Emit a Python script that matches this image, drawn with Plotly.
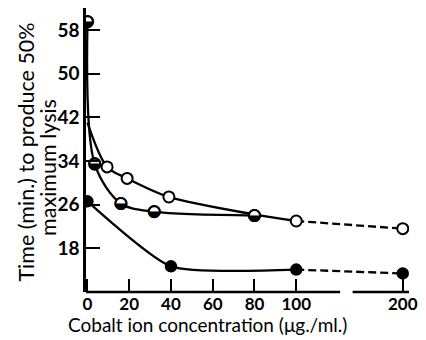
import plotly.graph_objects as go

# ---- data ----
open_x = [0, 9.4, 19, 39, 80, 100]
open_y = [41, 32.9, 30.8, 27.4, 24.2, 23.0]
open_marked = [False, True, True, True, False, True]
open_dash_x = [100, 200]
open_dash_y = [23.0, 21.6]

half_x = [0, 3.5, 16, 32, 80]
half_y = [59.5, 33.4, 26.2, 24.7, 24.0]

full_x = [0, 40, 100]
full_y = [26.6, 14.7, 14.1]
full_dash_x = [100, 200]
full_dash_y = [14.1, 13.4]

x_ticks = [0, 20, 40, 60, 80, 100, 200]
y_ticks = [18, 26, 34, 42, 50, 58]


def xpos(v):
    # broken axis: beyond 100 the scale is compressed
    return v if v <= 100 else 100 + (v - 100) * 0.51


FONT = "Lato"
LW = 2.3
fig = go.Figure()

# open circles series
fig.add_trace(go.Scatter(
    x=[xpos(v) for v in open_x], y=open_y, mode="lines",
    line=dict(color="black", width=LW, shape="spline", smoothing=0.9),
    showlegend=False, hoverinfo="skip"))
fig.add_trace(go.Scatter(
    x=[xpos(v) for v in open_dash_x], y=open_dash_y, mode="lines",
    line=dict(color="black", width=LW, dash="8px,4px"),
    showlegend=False, hoverinfo="skip"))

# half-filled series
fig.add_trace(go.Scatter(
    x=[xpos(v) for v in half_x], y=half_y, mode="lines",
    line=dict(color="black", width=LW, shape="spline", smoothing=0.9),
    showlegend=False, hoverinfo="skip"))

# filled series
fig.add_trace(go.Scatter(
    x=[xpos(v) for v in full_x], y=full_y, mode="lines",
    line=dict(color="black", width=LW, shape="spline", smoothing=0.55),
    showlegend=False, hoverinfo="skip"))
fig.add_trace(go.Scatter(
    x=[xpos(v) for v in full_dash_x], y=full_dash_y, mode="lines",
    line=dict(color="black", width=LW, dash="8px,4px"),
    showlegend=False, hoverinfo="skip"))

# markers
ox = [xpos(v) for v, m in zip(open_x, open_marked) if m] + [xpos(open_dash_x[-1])]
oy = [y for y, m in zip(open_y, open_marked) if m] + [open_dash_y[-1]]
fig.add_trace(go.Scatter(
    x=ox, y=oy, mode="markers",
    marker=dict(symbol="circle", size=11, color="white",
                line=dict(color="black", width=2)),
    showlegend=False, hoverinfo="skip"))
# half-filled: white disc underneath, then the lower-half-black circle glyph
hx = [xpos(v) for v in half_x]
fig.add_trace(go.Scatter(
    x=hx, y=half_y, mode="markers",
    marker=dict(symbol="circle", size=11, color="white",
                line=dict(color="black", width=2)),
    showlegend=False, hoverinfo="skip"))
fig.add_trace(go.Scatter(
    x=hx, y=half_y, mode="text", text=["\u25d2"] * len(hx),
    textposition="middle center",
    textfont=dict(family="DejaVu Sans", size=17, color="black"),
    showlegend=False, hoverinfo="skip"))
fig.add_trace(go.Scatter(
    x=[xpos(v) for v in full_x] + [xpos(full_dash_x[-1])],
    y=full_y + [full_dash_y[-1]], mode="markers",
    marker=dict(symbol="circle", size=11, color="black",
                line=dict(color="black", width=1.5)),
    showlegend=False, hoverinfo="skip"))

# broken x-axis line
for x0, x1 in [(-0.7, 121), (127, 154)]:
    fig.add_shape(type="line", xref="x", yref="paper", x0=x0, x1=x1, y0=0, y1=0,
                  line=dict(color="black", width=2.5))

fig.update_layout(
    width=426, height=340,
    margin=dict(l=86, r=9, t=8, b=48),
    plot_bgcolor="white", paper_bgcolor="white",
    font=dict(family=FONT, color="black", size=17),
    xaxis=dict(range=[-0.7, 154], showline=False, showgrid=False, zeroline=False,
               tickmode="array", tickvals=[xpos(v) for v in x_ticks],
               ticktext=[str(v) for v in x_ticks],
               ticks="inside", ticklen=13, tickwidth=2, tickcolor="black",
               ticklabeloverflow="allow", ticklabelstandoff=0,
               tickfont=dict(family=FONT, size=17, color="black", weight="bold")),
    yaxis=dict(range=[10, 62], showline=True, linecolor="black", linewidth=2.5,
               showgrid=False, zeroline=False,
               tickmode="array", tickvals=y_ticks,
               ticks="inside", ticklen=14, tickwidth=2, tickcolor="black",
               tickfont=dict(family=FONT, size=19, color="black", weight="bold")),
    annotations=[
        dict(text="Cobalt ion concentration (\u03bcg./ml.)", xref="paper", yref="paper",
             x=0.375, y=-0.115, xanchor="center", yanchor="middle", showarrow=False,
             font=dict(family=FONT, size=19, color="black")),
        dict(text="Time (min.) to produce 50%", xref="paper", yref="paper",
             x=-0.187, y=0.493, xanchor="center", yanchor="middle", showarrow=False,
             textangle=-90, font=dict(family=FONT, size=21.5, color="black")),
        dict(text="maximum lysis", xref="paper", yref="paper",
             x=-0.118, y=0.44, xanchor="center", yanchor="middle", showarrow=False,
             textangle=-90, font=dict(family=FONT, size=21.5, color="black")),
    ],
)

fig.write_html("out.html")
